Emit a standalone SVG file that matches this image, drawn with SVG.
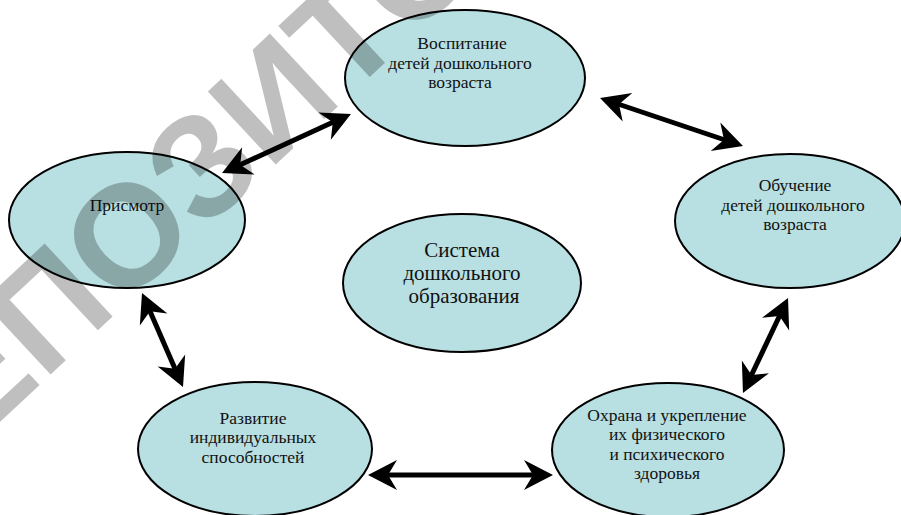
<svg xmlns="http://www.w3.org/2000/svg" width="901" height="515" viewBox="0 0 901 515">
<style>
.node ellipse{fill:#b8dfe1;stroke:#000;stroke-width:2}
.node text{font-family:"Liberation Serif","Times New Roman",serif;font-size:17.5px;fill:#111;text-anchor:middle}
.big text{font-size:21px}
.conn line{stroke:#000;stroke-width:5;marker-start:url(#ah);marker-end:url(#ah)}
.wm{font-family:"Liberation Sans",Arial,sans-serif;font-weight:bold;font-size:145px;fill:#000;fill-opacity:0.25}
</style>
<defs>
<marker id="ah" viewBox="-31 -16 32 32" markerWidth="32" markerHeight="32" refX="-8" refY="0" markerUnits="userSpaceOnUse" orient="auto-start-reverse">
<path d="M0,0 L-29,-15 L-20,0 L-29,15 Z" fill="#000"/>
</marker>
</defs>
<rect width="901" height="515" fill="#fff"/>
<g id="n-vospitanie" class="node">
<ellipse cx="465" cy="78" rx="120" ry="68"/>
<text x="462" y="49">Воспитание</text>
<text x="460" y="69">детей дошкольного</text>
<text x="460" y="88">возраста</text>
</g>
<g id="n-prismotr" class="node">
<ellipse cx="127" cy="220" rx="118" ry="68"/>
<text x="127" y="211">Присмотр</text>
</g>
<g id="n-obuchenie" class="node">
<ellipse cx="790" cy="221" rx="115" ry="67"/>
<text x="795" y="191">Обучение</text>
<text x="793" y="211">детей дошкольного</text>
<text x="795" y="230">возраста</text>
</g>
<g id="n-sistema" class="node big">
<ellipse cx="462" cy="283" rx="119" ry="69"/>
<text x="462" y="257">Система</text>
<text x="462" y="280">дошкольного</text>
<text x="464" y="303">образования</text>
</g>
<g id="n-razvitie" class="node">
<ellipse cx="255" cy="449" rx="117" ry="67"/>
<text x="253" y="424">Развитие</text>
<text x="253" y="443">индивидуальных</text>
<text x="253" y="463">способностей</text>
</g>
<g id="n-ohrana" class="node">
<ellipse cx="668" cy="450" rx="116" ry="67"/>
<text x="667" y="421">Охрана и укрепление</text>
<text x="667" y="440">их физического</text>
<text x="667" y="460">и психического</text>
<text x="667" y="479">здоровья</text>
</g>
<g id="connectors" class="conn">
<line x1="229.3" y1="169.7" x2="343.7" y2="117.3"/>
<line x1="607.6" y1="100.5" x2="735.4" y2="143.5"/>
<line x1="784.6" y1="305.2" x2="746.4" y2="385.8"/>
<line x1="376" y1="475" x2="545" y2="475"/>
<line x1="145.2" y1="300.3" x2="179.8" y2="379.7"/>
</g>
<text class="wm" x="272" y="149" text-anchor="middle" transform="rotate(-43 272 97)">РЕПОЗИТОРИЙ</text>
</svg>
